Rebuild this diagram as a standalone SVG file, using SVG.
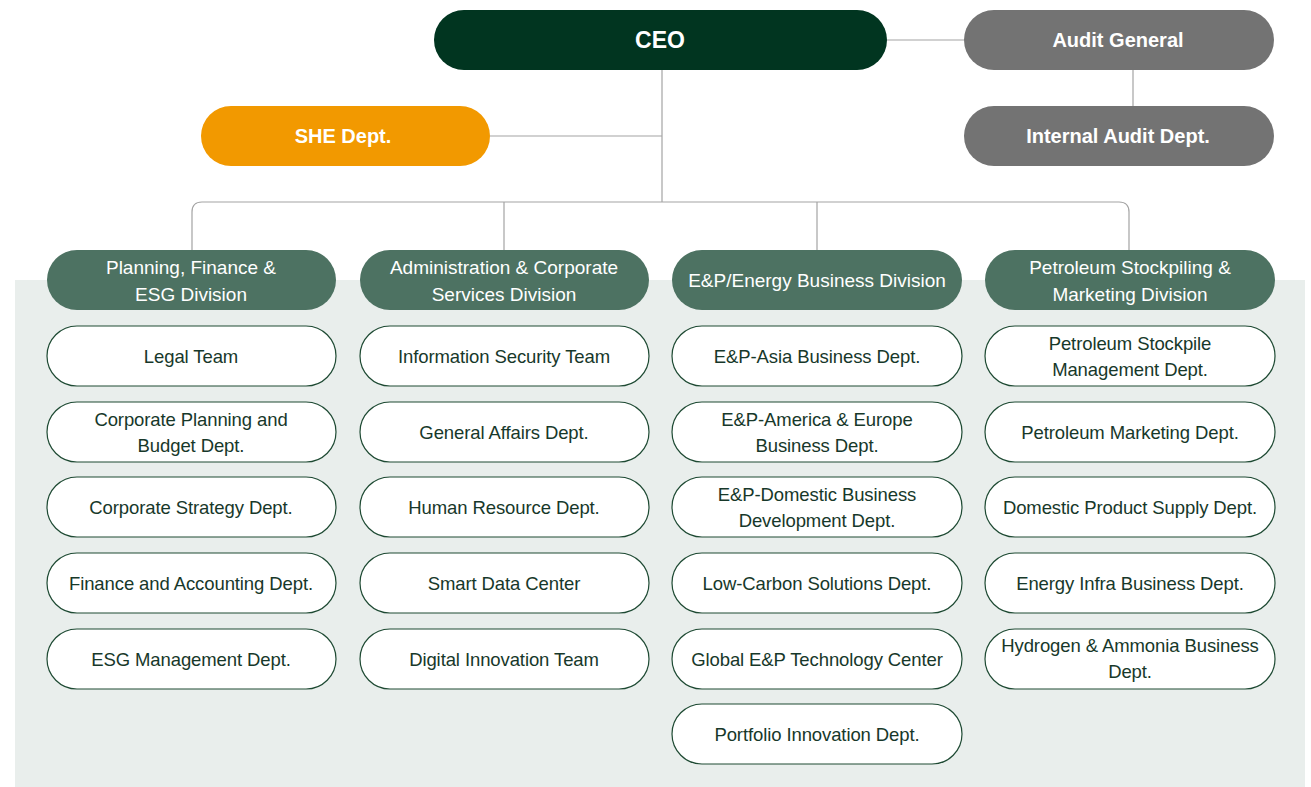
<svg xmlns="http://www.w3.org/2000/svg" width="1311" height="787" viewBox="0 0 1311 787">
<style>
text{font-family:"Liberation Sans",Arial,sans-serif;text-anchor:middle;dominant-baseline:central}
.top{font-size:20px;fill:#fff;font-weight:bold}
.div rect{fill:#4D7262}
.div text{font-size:19px;fill:#fff}
.sub rect{fill:#fff;stroke:#1E4A33;stroke-width:1.2}
.sub text{font-size:18.5px;fill:#17382A;letter-spacing:-0.1px}
.conn{fill:none;stroke:#A3A3A3;stroke-width:1.2}
</style>
<rect x="15" y="280" width="1290" height="507" fill="#E9EEEC"/>
<g id="connectors" class="conn">
<path d="M887 40H964"/>
<path d="M1133 70V106"/>
<path d="M662 70V202"/>
<path d="M490 136H662"/>
<path d="M192 250V212Q192 202 202 202H1119Q1129 202 1129 212V250"/>
<path d="M504 202V250"/>
<path d="M817 202V250"/>
</g>
<g id="ceo"><rect x="434" y="10" width="453" height="60" rx="30" fill="#013520"/><text class="top" x="660" y="40" style="font-size:23px">CEO</text></g>
<g id="audit-general"><rect x="964" y="10" width="310" height="60" rx="30" fill="#737373"/><text class="top" x="1118" y="40">Audit General</text></g>
<g id="internal-audit"><rect x="964" y="106" width="310" height="60" rx="30" fill="#737373"/><text class="top" x="1118" y="136">Internal Audit Dept.</text></g>
<g id="she"><rect x="201" y="106" width="289" height="60" rx="30" fill="#F29900"/><text class="top" x="343" y="136">SHE Dept.</text></g>

<g id="div-planning" class="div"><rect x="47" y="250" width="289" height="60" rx="30"/><text x="191" y="267">Planning, Finance &amp;</text><text x="191" y="294">ESG Division</text></g>
<g id="div-admin" class="div"><rect x="360" y="250" width="289" height="60" rx="30"/><text x="504" y="267">Administration &amp; Corporate</text><text x="504" y="294">Services Division</text></g>
<g id="div-ep" class="div"><rect x="672" y="250" width="290" height="60" rx="30"/><text x="817" y="280">E&amp;P/Energy Business Division</text></g>
<g id="div-petroleum" class="div"><rect x="985" y="250" width="290" height="60" rx="30"/><text x="1130" y="267">Petroleum Stockpiling &amp;</text><text x="1130" y="294">Marketing Division</text></g>

<g id="legal" class="sub"><rect x="47" y="326" width="289" height="60" rx="30"/><text x="191" y="356">Legal Team</text></g>
<g id="corp-planning" class="sub"><rect x="47" y="402" width="289" height="60" rx="30"/><text x="191" y="419">Corporate Planning and</text><text x="191" y="445">Budget Dept.</text></g>
<g id="corp-strategy" class="sub"><rect x="47" y="477" width="289" height="60" rx="30"/><text x="191" y="507">Corporate Strategy Dept.</text></g>
<g id="finance" class="sub"><rect x="47" y="553" width="289" height="60" rx="30"/><text x="191" y="583">Finance and Accounting Dept.</text></g>
<g id="esg" class="sub"><rect x="47" y="629" width="289" height="60" rx="30"/><text x="191" y="659">ESG Management Dept.</text></g>

<g id="infosec" class="sub"><rect x="360" y="326" width="289" height="60" rx="30"/><text x="504" y="356">Information Security Team</text></g>
<g id="general-affairs" class="sub"><rect x="360" y="402" width="289" height="60" rx="30"/><text x="504" y="432">General Affairs Dept.</text></g>
<g id="hr" class="sub"><rect x="360" y="477" width="289" height="60" rx="30"/><text x="504" y="507">Human Resource Dept.</text></g>
<g id="smart-data" class="sub"><rect x="360" y="553" width="289" height="60" rx="30"/><text x="504" y="583">Smart Data Center</text></g>
<g id="digital" class="sub"><rect x="360" y="629" width="289" height="60" rx="30"/><text x="504" y="659">Digital Innovation Team</text></g>

<g id="ep-asia" class="sub"><rect x="672" y="326" width="290" height="60" rx="30"/><text x="817" y="356">E&amp;P-Asia Business Dept.</text></g>
<g id="ep-america" class="sub"><rect x="672" y="402" width="290" height="60" rx="30"/><text x="817" y="419">E&amp;P-America &amp; Europe</text><text x="817" y="445">Business Dept.</text></g>
<g id="ep-domestic" class="sub"><rect x="672" y="477" width="290" height="60" rx="30"/><text x="817" y="494">E&amp;P-Domestic Business</text><text x="817" y="520">Development Dept.</text></g>
<g id="low-carbon" class="sub"><rect x="672" y="553" width="290" height="60" rx="30"/><text x="817" y="583">Low-Carbon Solutions Dept.</text></g>
<g id="global-ep" class="sub"><rect x="672" y="629" width="290" height="60" rx="30"/><text x="817" y="659">Global E&amp;P Technology Center</text></g>
<g id="portfolio" class="sub"><rect x="672" y="704" width="290" height="60" rx="30"/><text x="817" y="734">Portfolio Innovation Dept.</text></g>

<g id="stockpile" class="sub"><rect x="985" y="326" width="290" height="60" rx="30"/><text x="1130" y="343">Petroleum Stockpile</text><text x="1130" y="369">Management Dept.</text></g>
<g id="pet-marketing" class="sub"><rect x="985" y="402" width="290" height="60" rx="30"/><text x="1130" y="432">Petroleum Marketing Dept.</text></g>
<g id="domestic-supply" class="sub"><rect x="985" y="477" width="290" height="60" rx="30"/><text x="1130" y="507">Domestic Product Supply Dept.</text></g>
<g id="energy-infra" class="sub"><rect x="985" y="553" width="290" height="60" rx="30"/><text x="1130" y="583">Energy Infra Business Dept.</text></g>
<g id="hydrogen" class="sub"><rect x="985" y="629" width="290" height="60" rx="30"/><text x="1130" y="645">Hydrogen &amp; Ammonia Business</text><text x="1130" y="671">Dept.</text></g>
</svg>
